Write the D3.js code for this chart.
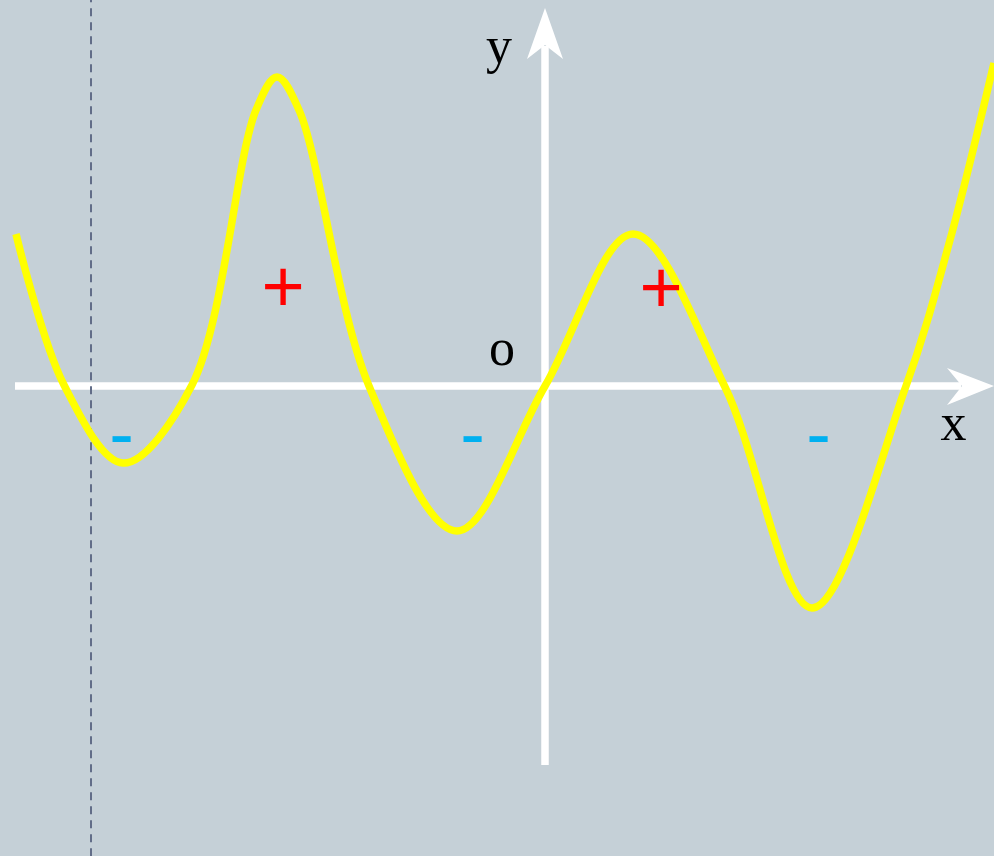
<!DOCTYPE html>
<html>
<head>
<meta charset="utf-8">
<script src="https://cdn.jsdelivr.net/npm/d3@7"></script>
<style>
html,body{margin:0;padding:0;background:#c5d0d7;}
svg{display:block;}
</style>
</head>
<body>
<svg id="chart" width="994" height="856"></svg>
<script>
// ---- data (arbitrary units, origin at axes crossing) ----
const curveX = [-10.58,-9.62,-8.44,-7.06,-5.78,-5.36,-4.92,-3.52,-1.76,0,1.76,3.60,5.34,7.22,8.10,8.98];
const curveY = [3.04,0.02,-1.54,0.02,5.52,6.18,5.52,0,-2.90,0,3.04,-0.02,-4.44,0,2.92,6.46];
const xDomain = [-10.6, 8.98];
const yDomain = [7.56, -7.58];
const dashX = -9.08;
const axisLabels = [{t:"y", x:-0.92, y:6.46}, {t:"o", x:-0.86, y:0.42}, {t:"x", x:8.17, y:-1.08}];
const plusLabels = [{x:-5.24, y:2.0}, {x:2.32, y:1.98}];
const minusLabels = [{x:-8.47, y:-1.04}, {x:-1.45, y:-1.04}, {x:5.47, y:-1.04}];

// ---- drawing ----
const svg = d3.select("#chart");
const W = 994, H = 856;
const x = d3.scaleLinear().domain(xDomain).range([15, 994]);
const y = d3.scaleLinear().domain(yDomain).range([8, 765]);

svg.append("rect").attr("width", W).attr("height", H).attr("fill", "#c5d0d7");

const AW = 7.5;
// x axis
const xTip = x(xDomain[1]), y0 = y(0);
svg.append("line").attr("x1", x(xDomain[0])).attr("x2", xTip - 33).attr("y1", y0).attr("y2", y0)
  .attr("stroke", "#fff").attr("stroke-width", AW);
svg.append("path")
  .attr("d", `M${xTip},${y0} L${xTip-47},${y0-18} L${xTip-32},${y0} L${xTip-47},${y0+19} Z`)
  .attr("fill", "#fff");
// y axis
const yTip = y(yDomain[0]), x0 = x(0);
svg.append("line").attr("x1", x0).attr("x2", x0).attr("y1", y(yDomain[1])).attr("y2", yTip + 38)
  .attr("stroke", "#fff").attr("stroke-width", AW);
svg.append("path")
  .attr("d", `M${x0},${yTip} L${x0+18},${yTip+51} L${x0},${yTip+37} L${x0-18},${yTip+51} Z`)
  .attr("fill", "#fff");

// dashed vertical line
svg.append("line").attr("x1", x(dashX)).attr("x2", x(dashX)).attr("y1", 0).attr("y2", H)
  .attr("stroke", "#626d88").attr("stroke-width", 2)
  .attr("stroke-dasharray", "8,6").attr("stroke-dashoffset", 5.7);

// curve
const pts = curveX.map((v, i) => [v, curveY[i]]);
const line = d3.line().x(d => x(d[0])).y(d => y(d[1])).curve(d3.curveCatmullRom.alpha(0.5));
svg.append("path").attr("d", line(pts)).attr("fill", "none")
  .attr("stroke", "#ffff00").attr("stroke-width", 7.5).attr("stroke-linejoin", "round");

// labels
svg.selectAll(".ax").data(axisLabels).enter().append("text")
  .attr("x", d => x(d.x)).attr("y", d => y(d.y))
  .attr("text-anchor", "middle")
  .attr("font-family", "'Liberation Serif', 'Times New Roman', serif")
  .attr("font-size", 52).attr("fill", "#000").text(d => d.t);

svg.selectAll(".pl").data(plusLabels).enter().append("text")
  .attr("x", d => x(d.x)).attr("y", d => y(d.y) + 26)
  .attr("text-anchor", "middle")
  .attr("font-family", "'Liberation Sans', Arial, sans-serif")
  .attr("font-size", 74).attr("fill", "#ff0000").text("+");

svg.selectAll(".mi").data(minusLabels).enter().append("text")
  .attr("x", d => x(d.x)).attr("y", d => y(d.y) + 21)
  .attr("text-anchor", "middle")
  .attr("font-family", "'Liberation Sans', Arial, sans-serif")
  .attr("font-size", 74).attr("fill", "#00b0f0").text("-");
</script>
</body>
</html>
